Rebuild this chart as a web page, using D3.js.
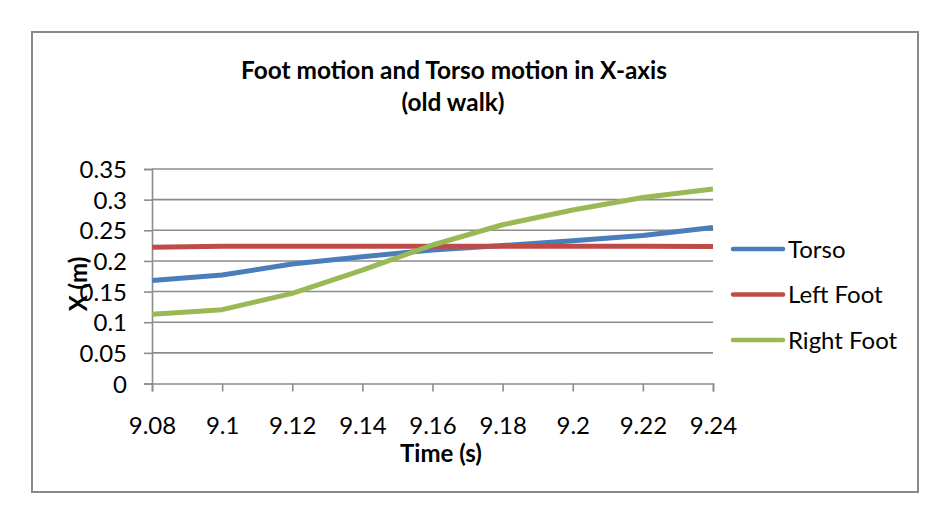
<!DOCTYPE html>
<html>
<head>
<meta charset="utf-8">
<script src="https://cdn.jsdelivr.net/npm/d3@7"></script>
<style>
  body { margin: 0; background: #fff; }
  text { font-family: Lato, "Open Sans", sans-serif; fill: #000; }
</style>
</head>
<body>
<div id="chart"></div>
<script>
const WIDTH = 944
const HEIGHT = 520

// data
const time = [9.08, 9.10, 9.12, 9.14, 9.16, 9.18, 9.20, 9.22, 9.24]
const torso = [0.168, 0.177, 0.195, 0.207, 0.218, 0.225, 0.233, 0.2415, 0.2545]
const leftFoot = [0.2225, 0.224, 0.224, 0.224, 0.224, 0.224, 0.224, 0.224, 0.2235]
const rightFoot = [0.113, 0.1205, 0.147, 0.185, 0.226, 0.259, 0.283, 0.3035, 0.3175]
const yTicks = [0, 0.05, 0.1, 0.15, 0.2, 0.25, 0.3, 0.35]
const seriesNames = ["Torso", "Left Foot", "Right Foot"]
const seriesColors = ["#4a7ebb", "#be4b48", "#98b954"]

const series = [torso, leftFoot, rightFoot].map((vals, i) => ({
    name: seriesNames[i],
    color: seriesColors[i],
    points: vals.map((v, j) => ({ t: time[j], v }))
}))

const margin = { left: 152, right: 944 - 713, top: 169, bottom: 520 - 383.5 }

const x = d3.scaleLinear()
    .domain([9.08, 9.24])
    .range([margin.left, WIDTH - margin.right])
const y = d3.scaleLinear()
    .domain([0, 0.35])
    .range([HEIGHT - margin.bottom, margin.top])

const fmt = d => String(+d.toFixed(2))

const svg = d3.select("#chart")
    .append("svg")
    .attr("width", WIDTH)
    .attr("height", HEIGHT)

// outer chart border
svg.append("rect")
    .attr("x", 32).attr("y", 32)
    .attr("width", 886).attr("height", 460)
    .attr("fill", "none")
    .attr("stroke", "#898989")
    .attr("stroke-width", 2)

// title
const title = svg.append("text")
    .attr("text-anchor", "middle")
    .style("font-weight", "bold")
    .style("font-size", "24.4px")
title.append("tspan").attr("x", 454).attr("y", 79).text("Foot motion and Torso motion in X-axis")
title.append("tspan").attr("x", 453).attr("y", 111).text("(old walk)")

// horizontal gridlines
svg.append("g")
    .selectAll("line")
    .data(yTicks.slice(1))
    .join("line")
    .attr("x1", x.range()[0]).attr("x2", x.range()[1])
    .attr("y1", d => y(d)).attr("y2", d => y(d))
    .attr("stroke", "#8c8c8c")
    .attr("stroke-width", 1.6)

// y axis
const yAxis = svg.append("g")
    .attr("transform", `translate(${x.range()[0]},0)`)
    .call(d3.axisLeft(y).tickValues(yTicks).tickFormat(fmt).tickSize(8).tickPadding(17))
yAxis.select(".domain").attr("stroke", "#8c8c8c").attr("stroke-width", 1.6)
yAxis.selectAll(".tick line").attr("stroke", "#8c8c8c").attr("stroke-width", 1.6)
yAxis.selectAll(".tick text")
    .style("font-size", "24px")
    .attr("dy", "0.36em")

// x axis
const xAxis = svg.append("g")
    .attr("transform", `translate(0,${y(0)})`)
    .call(d3.axisBottom(x).tickValues(time).tickFormat(fmt).tickSize(8).tickPadding(25))
xAxis.select(".domain").attr("stroke", "#8c8c8c").attr("stroke-width", 1.6)
xAxis.selectAll(".tick line").attr("stroke", "#8c8c8c").attr("stroke-width", 1.6)
xAxis.selectAll(".tick text")
    .style("font-size", "24px")

// axis titles
svg.append("text")
    .attr("x", 441).attr("y", 462)
    .attr("text-anchor", "middle")
    .style("font-weight", "bold")
    .style("font-size", "24px")
    .text("Time (s)")

svg.append("text")
    .attr("transform", "translate(87,284) rotate(-90)")
    .attr("text-anchor", "middle")
    .style("font-weight", "bold")
    .style("font-size", "24px")
    .text("X (m)")

// series lines
const line = d3.line()
    .x(d => x(d.t))
    .y(d => y(d.v))

svg.append("g")
    .selectAll("path")
    .data(series)
    .join("path")
    .attr("d", d => line(d.points))
    .attr("fill", "none")
    .attr("stroke", d => d.color)
    .attr("stroke-width", 5)
    .attr("stroke-linejoin", "round")

// legend
const legend = svg.append("g")
    .selectAll("g")
    .data(series)
    .join("g")
    .attr("transform", (d, i) => `translate(733,${249 + i * 45.5})`)
legend.append("line")
    .attr("x1", 0).attr("x2", 50)
    .attr("stroke", d => d.color)
    .attr("stroke-width", 4.5)
    .attr("stroke-linecap", "round")
legend.append("text")
    .attr("x", 55)
    .attr("dy", "0.36em")
    .style("font-size", "24px")
    .text(d => d.name)
</script>
</body>
</html>
